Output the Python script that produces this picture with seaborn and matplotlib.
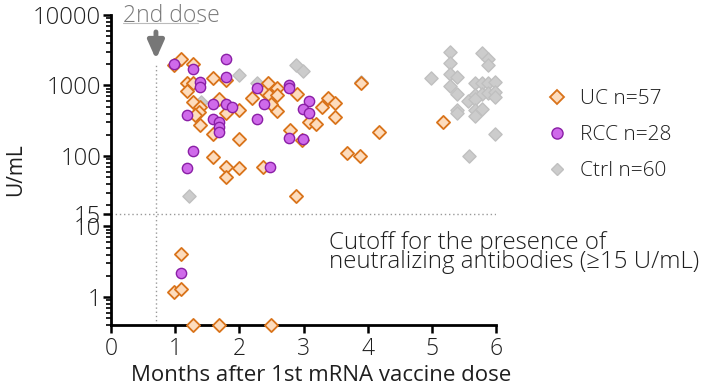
import matplotlib
matplotlib.use("Agg")
import matplotlib.pyplot as plt
import seaborn as sns
import pandas as pd
import numpy as np
from matplotlib.ticker import FixedLocator, LogLocator, NullFormatter
from matplotlib.lines import Line2D

# ---------------- data ----------------
uc_x = [1.09, 0.98, 1.28, 1.18, 1.28, 1.18, 1.59, 1.79, 1.28, 1.39, 1.37, 1.31, 1.39,
        1.68, 1.79, 1.99, 2.20, 2.38, 2.45, 1.59, 1.99, 1.59, 1.79, 1.99, 1.79, 2.37,
        2.59, 2.46, 2.59, 2.90, 2.59, 3.29, 3.38, 3.49, 3.49, 3.09, 3.19, 2.79, 3.90,
        4.18, 3.68, 3.88, 5.17, 2.88, 2.97, 2.50, 1.09, 0.98, 1.09, 1.28, 1.68, 2.49]
uc_y = [2380, 1950, 2020, 1090, 1090, 840, 1280, 1200, 580, 500, 420, 380, 275,
        645, 410, 450, 665, 840, 1085, 205, 175, 97, 70, 68, 50, 70,
        920, 735, 735, 760, 435, 500, 665, 565, 357, 304, 284, 234, 1085,
        219, 110, 100, 304, 27, 168, 547, 4.1, 1.18, 1.30, 0.4, 0.4, 0.4]

rcc_x = [0.98, 1.28, 1.79, 1.39, 1.39, 1.79, 1.18, 1.59, 1.79, 1.89, 1.59, 1.68, 1.68,
         1.68, 2.28, 2.38, 2.28, 1.28, 1.18, 2.48, 2.77, 2.77, 3.09, 2.99, 3.09, 2.77,
         2.99, 1.09]
rcc_y = [2020, 1710, 2380, 1120, 950, 1320, 380, 547, 547, 496, 335, 304, 258,
         219, 922, 547, 335, 118, 68, 70, 1016, 922, 603, 464, 408, 180,
         174, 2.19]

ctrl_x = [1.99, 2.28, 1.40, 1.22, 2.88, 2.99, 3.90, 4.99, 5.28, 5.28, 5.28, 5.39, 5.28,
          5.39, 5.78, 5.88, 5.88, 5.67, 5.78, 5.88, 5.98, 5.67, 5.78, 5.88, 5.98, 5.98,
          5.56, 5.67, 5.39, 5.39, 5.67, 5.78, 5.67, 5.98, 5.58]
ctrl_y = [1410, 1085, 583, 27, 1950, 1606, 1120, 1277, 2990, 2090, 1455, 1320, 980,
          758, 2890, 2380, 1950, 1085, 1085, 1085, 1121, 733, 758, 783, 809, 687,
          603, 644, 449, 408, 449, 464, 370, 205, 100]

legend_labels = ["UC n=57", "RCC n=28", "Ctrl n=60"]
x_ticks = [0, 1, 2, 3, 4, 5, 6]
y_ticks = [1, 10, 15, 100, 1000, 10000]
y_ticklabels = ["1", "10", "15", "100", "1000", "10000"]
second_dose = 0.7
cutoff = 15

# ---------------- style ----------------
sns.set_theme(style="ticks")
plt.rcParams["font.family"] = ["Open Sans", "DejaVu Sans"]
plt.rcParams["font.weight"] = "light"

TXT = "#1f1f1f"
fig = plt.figure(figsize=(7.09, 3.90), dpi=100)
ax = fig.add_axes([0.1566, 0.1667, 0.5430, 0.7948])

uc_face, uc_edge = "#FDDCBD", "#D9731A"
rcc_face, rcc_edge = "#CF6AEA", "#8A1FA6"
ct_face, ct_edge = "#CCCCCC", "#C0C0C0"

df_ct = pd.DataFrame({"x": ctrl_x, "y": ctrl_y})
df_uc = pd.DataFrame({"x": uc_x, "y": uc_y})
df_rcc = pd.DataFrame({"x": rcc_x, "y": rcc_y})

sns.scatterplot(data=df_ct, x="x", y="y", ax=ax, marker="D", s=45,
                color=ct_face, edgecolor=ct_edge, linewidth=1.0, zorder=3, clip_on=False)
sns.scatterplot(data=df_uc, x="x", y="y", ax=ax, marker="D", s=45,
                color=uc_face, edgecolor=uc_edge, linewidth=1.3, zorder=4, clip_on=False)
sns.scatterplot(data=df_rcc, x="x", y="y", ax=ax, marker="o", s=55,
                color=rcc_face, edgecolor=rcc_edge, linewidth=1.0, zorder=5, clip_on=False)

ax.set_yscale("log")
ax.set_ylim(0.4, 10000)
ax.set_xlim(0, 6)

ax.yaxis.set_major_locator(FixedLocator(y_ticks))
ax.set_yticklabels(y_ticklabels)
ax.yaxis.set_minor_locator(LogLocator(base=10, subs=np.arange(2, 10), numticks=20))
ax.yaxis.set_minor_formatter(NullFormatter())
ax.set_xticks(x_ticks)

ax.tick_params(axis="both", which="major", direction="out", length=6, width=1.8,
               color="black", labelcolor=TXT)
ax.tick_params(axis="y", which="major", labelsize=17, pad=1)
ax.tick_params(axis="x", which="major", labelsize=16.5, pad=3)
ax.tick_params(axis="y", which="minor", direction="out", length=3.5, width=1.2, color="black")

for s in ["top", "right"]:
    ax.spines[s].set_visible(False)
for s in ["left", "bottom"]:
    ax.spines[s].set_linewidth(2.0)
    ax.spines[s].set_color("black")

ax.set_xlabel("Months after 1st mRNA vaccine dose", fontsize=16, color=TXT)
ax.xaxis.set_label_coords(0.545, -0.13)
ax.set_ylabel("U/mL", fontsize=15, color=TXT, labelpad=5)

# reference lines
ax.axhline(cutoff, color="#999999", lw=1.0, ls=(0, (1, 2)), zorder=1)
ax.plot([second_dose, second_dose], [0.4, 2100], color="#999999", lw=1.0, ls=(0, (1, 2)), zorder=1)

# arrow and label for 2nd dose
ax.annotate("", xy=(second_dose, 2150), xytext=(second_dose, 6300),
            arrowprops=dict(arrowstyle="-|>,head_width=0.4,head_length=0.9",
                            color="#777777", lw=3.5), annotation_clip=False)
ax.text(0.19, 8090, "2nd dose", fontsize=16.5, color="#7a7a7a",
        ha="left", va="baseline", clip_on=False)
ax.plot([0.19, 1.36], [7770, 7770], color="#bbbbbb", lw=0.8,
        clip_on=False, zorder=1)

ax.text(3.4, 8.6, "Cutoff for the presence of\nneutralizing antibodies (\u226515 U/mL)",
        fontsize=17.3, color=TXT, ha="left", va="top", linespacing=0.72, clip_on=False)

# legend
handles = [
    Line2D([], [], ls="none", marker="D", markersize=7.5, markerfacecolor=uc_face,
           markeredgecolor=uc_edge, markeredgewidth=1.3),
    Line2D([], [], ls="none", marker="o", markersize=8, markerfacecolor=rcc_face,
           markeredgecolor=rcc_edge, markeredgewidth=1.0),
    Line2D([], [], ls="none", marker="D", markersize=6.5, markerfacecolor=ct_face,
           markeredgecolor=ct_edge, markeredgewidth=1.0),
]
fig.legend(handles, legend_labels, loc="upper left", bbox_to_anchor=(0.745, 0.82),
           frameon=False, fontsize=15, handletextpad=0.6, labelspacing=0.78,
           handlelength=1.0, labelcolor=TXT)

fig.savefig("out.png", dpi=100)
